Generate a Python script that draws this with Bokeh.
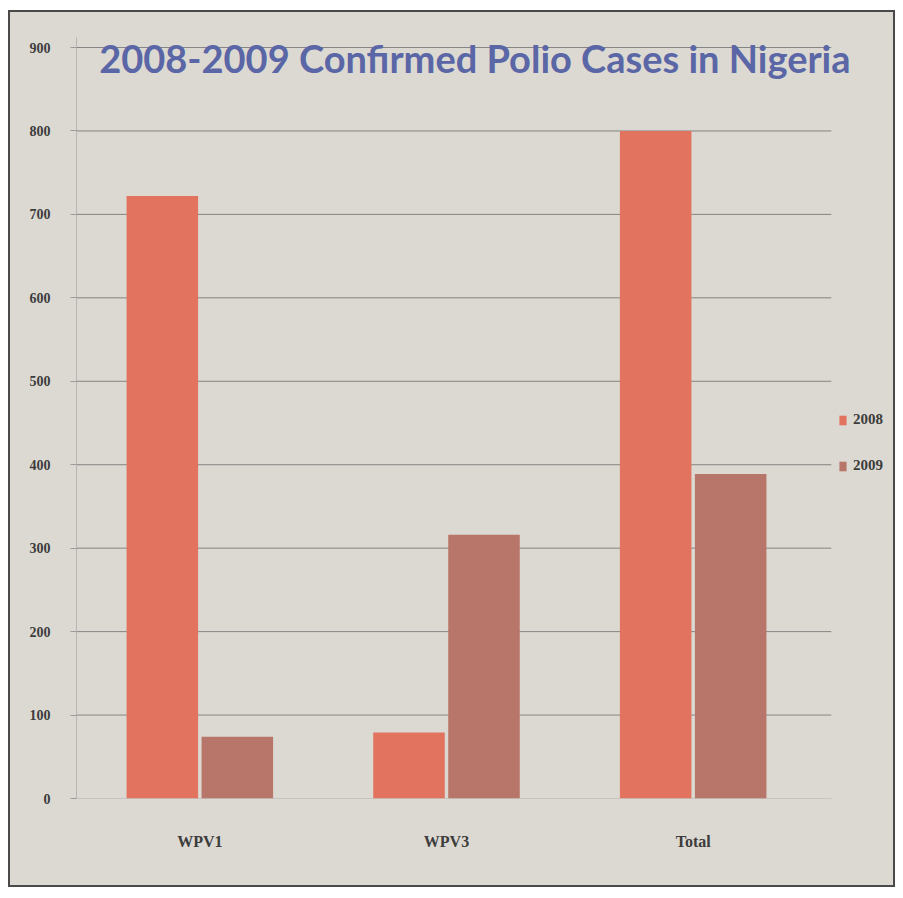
from bokeh.plotting import figure
from bokeh.models import ColumnDataSource, Range1d, Legend, LegendItem, Label, FixedTicker
from bokeh.transform import dodge
from bokeh.embed import file_html
from bokeh.resources import INLINE

categories = ["WPV1", "WPV3", "Total"]
cases_2008 = [722, 79, 800]
cases_2009 = [74, 316, 389]
series_labels = ["2008", "2009"]
y_ticks = [0, 100, 200, 300, 400, 500, 600, 700, 800, 900]
title_text = "2008-2009 Confirmed Polio Cases in Nigeria"

PAPER = "#dcd9d2"
C2008 = "#e2735f"
C2009 = "#b8766a"
INK = "#3c3c3c"

# category slots: centres at 0.5, 1.5, 2.5 on a numeric axis
centres = [i + 0.5 for i in range(len(categories))]
src = ColumnDataSource(dict(xc=centres, y2008=cases_2008, y2009=cases_2009))

p = figure(x_range=Range1d(0, 3.3), y_range=Range1d(0, 912),
           frame_width=814, frame_height=761,
           output_backend="svg", toolbar_location=None)
p.min_border_left = 66
p.min_border_top = 25
p.min_border_bottom = 87
p.min_border_right = 3
p.background_fill_color = PAPER
p.border_fill_color = PAPER
p.outline_line_color = None
p.styles = {"border": "2px solid #4a4a4a", "margin-left": "8px", "margin-top": "10px",
            "background-color": PAPER}

# horizontal rules at the ticks, spanning the category area
grid_src = ColumnDataSource(dict(y=y_ticks[1:]))
p.segment(x0=0, x1=3.06, y0="y", y1="y", source=grid_src,
          line_color="#6f6f6f", line_alpha=0.8, line_width=1)
p.segment(x0=[0], x1=[3.06], y0=[y_ticks[0]], y1=[y_ticks[0]],
          line_color="#b0b0b0", line_width=1.2)

r1 = p.vbar(x=dodge("xc", -0.152), top="y2008", width=0.29,
            source=src, fill_color=C2008, line_color=None)
r2 = p.vbar(x=dodge("xc", 0.152), top="y2009", width=0.29,
            source=src, fill_color=C2009, line_color=None)

p.xgrid.grid_line_color = None
p.ygrid.grid_line_color = None

p.yaxis.ticker = FixedTicker(ticks=y_ticks)
p.yaxis.minor_tick_line_color = None
p.yaxis.major_tick_in = 0
p.yaxis.major_tick_out = 6
p.yaxis.major_tick_line_color = "#9a9a9a"
p.yaxis.axis_line_color = "#b5b5b5"
p.yaxis.major_label_text_font = "Liberation Serif"
p.yaxis.major_label_text_font_style = "bold"
p.yaxis.major_label_text_font_size = "14px"
p.yaxis.major_label_text_color = INK
p.yaxis.major_label_standoff = 20

p.xaxis.ticker = FixedTicker(ticks=centres)
p.xaxis.major_label_overrides = {c: n for c, n in zip(centres, categories)}
p.xaxis.axis_line_color = None
p.xaxis.major_tick_line_color = None
p.xaxis.minor_tick_line_color = None
p.xaxis.major_label_text_font = "Liberation Serif"
p.xaxis.major_label_text_font_style = "bold"
p.xaxis.major_label_text_font_size = "16px"
p.xaxis.major_label_text_color = INK
p.xaxis.major_label_standoff = 28

title = Label(x=1.615, y=888, text=title_text, text_align="center", text_baseline="middle",
              text_font="Lato", text_font_style="bold", text_font_size="38px",
              text_color="#5a66a6")
p.add_layout(title)

legend = Legend(items=[LegendItem(label=series_labels[0], renderers=[r1]),
                       LegendItem(label=series_labels[1], renderers=[r2])],
                location=(762, 324), orientation="vertical")
legend.background_fill_alpha = 0
legend.border_line_color = None
legend.label_text_font = "Liberation Serif"
legend.label_text_font_style = "bold"
legend.label_text_font_size = "15px"
legend.label_text_color = INK
legend.glyph_width = 9
legend.glyph_height = 12
legend.label_standoff = 6
legend.spacing = 29
legend.margin = 0
legend.padding = 0
p.add_layout(legend)

open("out.html", "w").write(file_html(p, INLINE))
